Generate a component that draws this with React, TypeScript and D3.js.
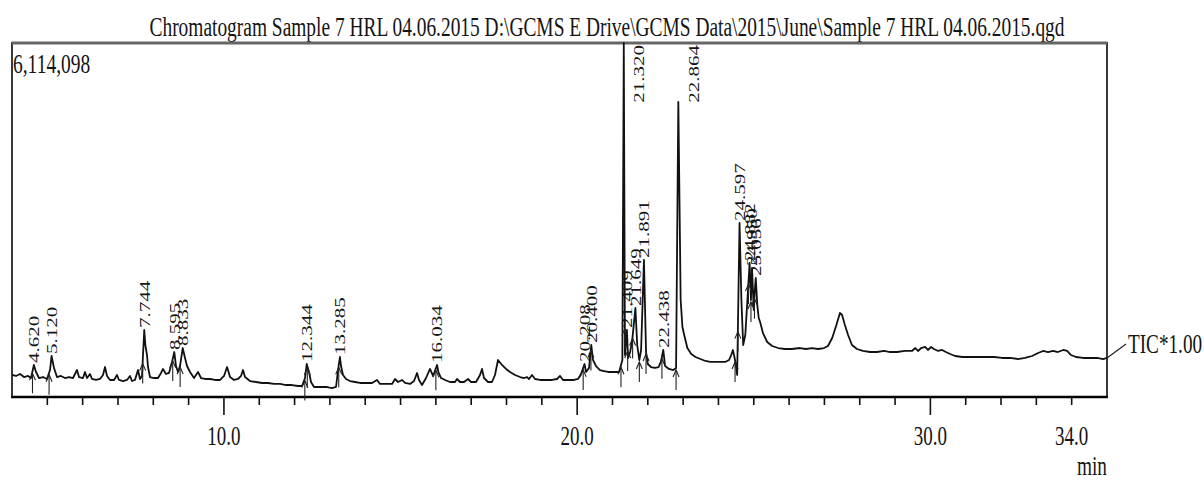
import React from 'react';
import * as d3 from 'd3';

// TIC trace: [retention time (min), intensity (counts)]
const tic: [number, number][] = [
  [4.000, 380000], [4.113, 363000], [4.227, 397000], [4.340, 345000], [4.453, 363000], [4.538, 328000],
  [4.620, 553000], [4.680, 432000], [4.764, 328000], [4.878, 345000], [4.991, 311000], [5.076, 466000],
  [5.120, 708000], [5.189, 501000], [5.274, 345000], [5.387, 363000], [5.501, 328000], [5.614, 345000],
  [5.727, 328000], [5.840, 466000], [5.897, 345000], [6.010, 328000], [6.067, 432000], [6.123, 328000],
  [6.208, 397000], [6.265, 311000], [6.378, 294000], [6.491, 311000], [6.576, 380000], [6.633, 518000],
  [6.690, 363000], [6.775, 294000], [6.888, 294000], [6.973, 380000], [7.029, 294000], [7.143, 276000],
  [7.256, 294000], [7.341, 363000], [7.397, 276000], [7.482, 294000], [7.567, 466000], [7.624, 311000],
  [7.680, 363000], [7.744, 1157000], [7.775, 898000], [7.822, 725000], [7.850, 518000], [7.907, 345000],
  [8.020, 328000], [8.134, 328000], [8.219, 415000], [8.275, 484000], [8.360, 397000], [8.445, 415000],
  [8.530, 605000], [8.595, 777000], [8.643, 535000], [8.700, 432000], [8.756, 535000], [8.833, 846000],
  [8.898, 674000], [8.955, 535000], [9.040, 432000], [9.153, 328000], [9.266, 432000], [9.351, 328000],
  [9.465, 311000], [9.606, 311000], [9.748, 294000], [9.890, 294000], [10.003, 363000], [10.088, 518000],
  [10.173, 345000], [10.286, 294000], [10.399, 311000], [10.484, 363000], [10.540, 466000], [10.597, 345000],
  [10.739, 276000], [10.908, 259000], [11.078, 242000], [11.248, 242000], [11.418, 225000], [11.588, 225000],
  [11.758, 207000], [11.927, 207000], [12.097, 190000], [12.211, 190000], [12.295, 328000], [12.344, 570000],
  [12.409, 432000], [12.465, 259000], [12.550, 173000], [12.720, 173000], [12.890, 173000], [13.060, 155000],
  [13.173, 173000], [13.230, 466000], [13.285, 691000], [13.315, 535000], [13.371, 380000], [13.456, 311000],
  [13.570, 276000], [13.711, 259000], [13.853, 242000], [14.023, 242000], [14.193, 242000], [14.334, 294000],
  [14.419, 225000], [14.589, 225000], [14.759, 225000], [14.844, 311000], [14.929, 259000], [15.042, 294000],
  [15.127, 242000], [15.269, 225000], [15.382, 276000], [15.467, 415000], [15.523, 294000], [15.608, 207000],
  [15.721, 328000], [15.834, 484000], [15.920, 363000], [16.034, 553000], [16.070, 432000], [16.146, 328000],
  [16.259, 294000], [16.401, 259000], [16.542, 259000], [16.599, 311000], [16.684, 259000], [16.797, 259000],
  [16.910, 311000], [16.995, 259000], [17.137, 259000], [17.250, 380000], [17.306, 484000], [17.363, 328000],
  [17.476, 259000], [17.589, 259000], [17.674, 380000], [17.759, 639000], [17.872, 553000], [17.986, 484000],
  [18.099, 432000], [18.241, 380000], [18.383, 345000], [18.496, 328000], [18.581, 345000], [18.637, 311000],
  [18.722, 380000], [18.807, 311000], [18.949, 294000], [19.119, 294000], [19.289, 294000], [19.430, 311000],
  [19.515, 363000], [19.600, 294000], [19.742, 294000], [19.912, 294000], [20.025, 311000], [20.110, 397000],
  [20.208, 570000], [20.251, 432000], [20.336, 501000], [20.400, 898000], [20.449, 639000], [20.534, 535000],
  [20.647, 466000], [20.761, 449000], [20.874, 432000], [20.987, 432000], [21.100, 432000], [21.185, 432000],
  [21.242, 553000], [21.280, 639000], [21.320, 6114098], [21.353, 725000], [21.409, 1157000], [21.440, 674000],
  [21.500, 777000], [21.560, 984000], [21.649, 1537000], [21.700, 898000], [21.760, 639000], [21.810, 812000],
  [21.891, 2366000], [21.950, 777000], [22.000, 570000], [22.090, 518000], [22.200, 501000], [22.310, 518000],
  [22.370, 605000], [22.438, 812000], [22.490, 535000], [22.600, 484000], [22.720, 466000], [22.800, 501000],
  [22.864, 5095000], [22.930, 1675000], [22.980, 1209000], [23.030, 1071000], [23.120, 846000], [23.230, 743000],
  [23.350, 691000], [23.490, 656000], [23.630, 622000], [23.770, 605000], [23.900, 605000], [24.050, 605000],
  [24.190, 605000], [24.300, 639000], [24.360, 725000], [24.410, 812000], [24.470, 639000], [24.530, 380000],
  [24.597, 3005000], [24.650, 1675000], [24.700, 898000], [24.760, 1071000], [24.820, 1675000], [24.882, 2314000],
  [24.920, 1675000], [24.950, 2228000], [25.000, 1503000], [25.030, 1848000], [25.056, 2055000], [25.100, 1589000],
  [25.140, 1364000], [25.180, 1295000], [25.260, 1105000], [25.380, 950000], [25.520, 881000], [25.690, 846000],
  [25.890, 829000], [26.080, 829000], [26.310, 846000], [26.480, 829000], [26.650, 846000], [26.820, 829000],
  [26.990, 846000], [27.100, 881000], [27.220, 1019000], [27.330, 1226000], [27.440, 1451000], [27.500, 1416000],
  [27.580, 1243000], [27.670, 1071000], [27.780, 898000], [27.920, 829000], [28.090, 795000], [28.290, 777000],
  [28.490, 777000], [28.690, 795000], [28.860, 777000], [29.060, 777000], [29.280, 795000], [29.480, 795000],
  [29.570, 846000], [29.650, 795000], [29.740, 846000], [29.850, 864000], [29.930, 812000], [30.020, 864000],
  [30.100, 829000], [30.220, 795000], [30.330, 812000], [30.440, 777000], [30.560, 743000], [30.700, 708000],
  [30.900, 691000], [31.120, 691000], [31.350, 691000], [31.580, 691000], [31.800, 691000], [32.030, 674000],
  [32.260, 674000], [32.480, 656000], [32.680, 674000], [32.880, 708000], [33.050, 760000], [33.190, 795000],
  [33.330, 777000], [33.470, 795000], [33.610, 777000], [33.760, 812000], [33.870, 795000], [33.980, 725000],
  [34.120, 691000], [34.320, 674000], [34.520, 674000], [34.720, 674000], [34.890, 656000], [35.000, 674000],
];

// labelled peaks (retention time, min)
const peakRT = [4.620, 5.120, 7.744, 8.595, 8.833, 12.344, 13.285, 16.034, 20.208, 20.400, 21.409, 21.320,
  21.649, 21.891, 22.438, 22.864, 24.597, 24.882, 24.950, 25.056];

// integration start/end arrows
const markRT = [4.58, 5.05, 7.70, 8.55, 8.76, 12.29, 12.36, 13.25, 16.00, 20.17, 20.39, 21.24, 21.35, 21.43,
  21.57, 21.76, 21.95, 22.40, 22.80, 24.47, 24.55, 24.85, 24.92, 25.02];

const minorTicks = d3.range(5, 35);
const majorTicks = [10, 20, 30];
const tickLabels = [10, 20, 30, 34];

const title = 'Chromatogram Sample 7 HRL 04.06.2015 D:\\GCMS E Drive\\GCMS Data\\2015\\June\\Sample 7 HRL 04.06.2015.qgd';
const maxLabel = '6,114,098';
const ticLabel = 'TIC*1.00';
const maxCounts = 6114098;

const FONT = "'Liberation Serif', 'Times New Roman', serif";
const INK = '#151515';

const STxt = ({ x, y, size, k = 1.45, anchor = 'start', children, len }: any) => (
  <text
    transform={`translate(${x},${y}) scale(1,${k})`}
    fontSize={size}
    fontFamily={FONT}
    fill={INK}
    textAnchor={anchor}
    textLength={len}
    lengthAdjust={len ? 'spacingAndGlyphs' : undefined}
  >
    {children}
  </text>
);

export default function App() {
  const left = 12, right = 1107, top = 43, bottom = 397;
  const x = d3.scaleLinear().domain([4, 35]).range([left, right]);
  const y = d3.scaleLinear().domain([0, maxCounts]).range([bottom, top]);

  const line = d3.line<[number, number]>().x(d => x(d[0])).y(d => y(d[1]));
  const bis = d3.bisector((d: [number, number]) => d[0]).left;
  const valueAt = (t: number) => {
    const i = Math.max(1, Math.min(tic.length - 1, bis(tic, t)));
    const a = tic[i - 1], b = tic[i];
    const f = (t - a[0]) / (b[0] - a[0]);
    return a[1] + (b[1] - a[1]) * f;
  };
  const apexAt = (t: number) => {
    let best = tic[0];
    for (const d of tic) if (Math.abs(d[0] - t) < Math.abs(best[0] - t)) best = d;
    return best[1];
  };

  const last = tic[tic.length - 1];

  return (
    <svg width={1204} height={481} style={{ position: 'absolute', left: 0, top: 0, background: '#fff' }}>
      <STxt x={607} y={36} size={19.4} anchor="middle" len={915}>{title}</STxt>

      <rect x={left} y={top} width={right - left} height={bottom - top} fill="none" stroke="#3a3a3a" strokeWidth={2} />
      <line x1={left} x2={right} y1={top} y2={top} stroke="#666" strokeWidth={3} />

      <STxt x={13} y={73} size={19.5} k={1.35}>{maxLabel}</STxt>

      {/* x axis */}
      <line x1={left - 1} x2={right + 1} y1={bottom} y2={bottom} stroke="#000" strokeWidth={2.4} />
      {minorTicks.map(t => (
        <line key={'m' + t} x1={x(t)} x2={x(t)} y1={bottom} y2={majorTicks.includes(t) ? bottom + 18 : bottom + 8}
          stroke="#111" strokeWidth={1.6} />
      ))}
      {tickLabels.map(t => (
        <STxt key={'l' + t} x={x(t)} y={445} size={19} anchor="middle">{t.toFixed(1)}</STxt>
      ))}
      <STxt x={right} y={475} size={19.3} k={1.4} anchor="end">min</STxt>

      {/* trace */}
      <path d={line(tic) || ''} fill="none" stroke="#111" strokeWidth={1.8} strokeLinejoin="round" />

      {/* integration marks */}
      {markRT.map((t, i) => {
        const px = x(t);
        const py = y(valueAt(t)) + 2;
        return (
          <g key={'a' + i} stroke="#222" strokeWidth={1.1} fill="none">
            <line x1={px} x2={px} y1={py} y2={py + 20} />
            <path d={`M${px - 3},${py + 7}L${px},${py}L${px + 3},${py + 7}`} />
          </g>
        );
      })}

      {/* peak labels */}
      {peakRT.map((t, i) => {
        const v = apexAt(t);
        const side = v > 0.8 * maxCounts;
        const px = side ? x(t) + 15 : x(t);
        const py = side ? top + 2 : y(v) - 2;
        return (
          <text key={'p' + i}
            transform={`translate(${px},${py}) scale(1,1.4) rotate(-90)`}
            fontSize={15} fontFamily={FONT} fill={INK}
            textAnchor={side ? 'end' : 'start'} dy="0.35em">
            {t.toFixed(3)}
          </text>
        );
      })}

      {/* TIC tag */}
      <line x1={x(last[0])} y1={y(last[1])} x2={x(last[0]) + 19} y2={y(last[1]) - 14} stroke="#222" strokeWidth={1.2} />
      <STxt x={1128} y={353} size={19.2} k={1.4}>{ticLabel}</STxt>
    </svg>
  );
}
